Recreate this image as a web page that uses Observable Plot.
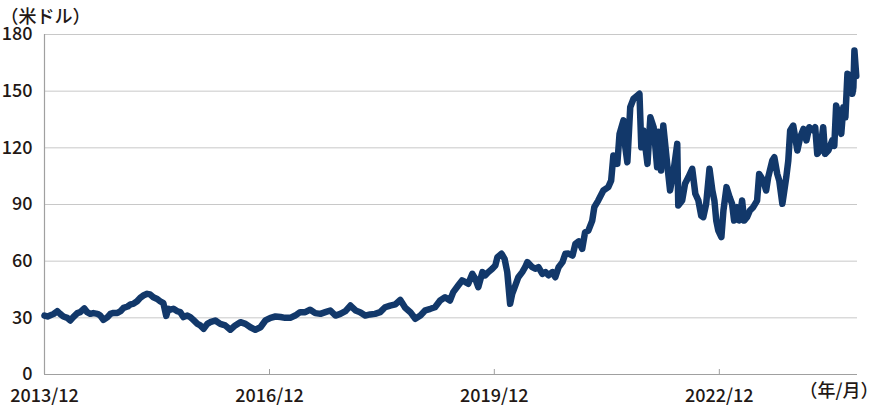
<!DOCTYPE html>
<html><head><meta charset="utf-8">
<script src="https://cdn.jsdelivr.net/npm/d3@7"></script>
<script src="https://cdn.jsdelivr.net/npm/@observablehq/plot@0.6"></script>
<style>
html,body{margin:0;padding:0;background:#fff;}
#chart svg{display:block;}
</style></head><body><div id="chart"></div>
<script>
const dates = [
"2013-12-31","2014-01-15","2014-02-14","2014-03-03","2014-03-17","2014-04-02","2014-04-21","2014-05-05","2014-05-20","2014-06-09",
"2014-06-23","2014-07-13","2014-07-27","2014-08-11","2014-08-26","2014-09-15","2014-09-29","2014-10-14","2014-11-03","2014-11-17",
"2014-12-02","2014-12-21","2015-01-05","2015-01-20","2015-02-09","2015-02-23","2015-03-08","2015-03-27","2015-04-11","2015-04-26",
"2015-05-15","2015-05-29","2015-06-14","2015-07-03","2015-07-17","2015-08-02","2015-08-16","2015-08-26","2015-09-05","2015-09-20",
"2015-10-09","2015-10-23","2015-11-08","2015-11-27","2015-12-11","2015-12-26","2016-01-15","2016-01-29","2016-02-14","2016-03-03",
"2016-03-17","2016-04-11","2016-05-05","2016-05-29","2016-06-23","2016-07-17","2016-08-11","2016-09-05","2016-09-29","2016-10-23",
"2016-11-17","2016-12-11","2017-01-05","2017-01-29","2017-02-23","2017-03-17","2017-04-11","2017-05-05","2017-05-29","2017-06-23",
"2017-07-17","2017-08-11","2017-09-05","2017-09-29","2017-10-23","2017-11-17","2017-12-11","2018-01-05","2018-01-29","2018-02-23",
"2018-03-17","2018-04-11","2018-05-05","2018-05-29","2018-06-23","2018-07-17","2018-08-11","2018-09-05","2018-09-29","2018-10-23",
"2018-11-17","2018-12-11","2019-01-05","2019-01-29","2019-02-23","2019-03-17","2019-04-11","2019-05-05","2019-05-29","2019-06-14",
"2019-07-08","2019-07-27","2019-08-11","2019-08-26","2019-09-15","2019-09-29","2019-10-14","2019-11-03","2019-11-17","2019-12-02",
"2019-12-21","2020-01-05","2020-01-15","2020-02-04","2020-02-19","2020-03-03","2020-03-17","2020-03-27","2020-04-11","2020-04-26",
"2020-05-15","2020-05-29","2020-06-09","2020-07-03","2020-07-17","2020-08-02","2020-08-21","2020-09-05","2020-09-20","2020-10-09",
"2020-10-23","2020-11-08","2020-11-27","2020-12-11","2020-12-26","2021-01-15","2021-01-29","2021-02-14","2021-03-03","2021-03-17",
"2021-04-02","2021-04-21","2021-05-01","2021-05-20","2021-06-14","2021-07-08","2021-07-22","2021-08-02","2021-08-21","2021-09-01",
"2021-09-20","2021-09-29","2021-10-09","2021-10-23","2021-11-08","2021-11-27","2021-12-07","2021-12-16","2021-12-26","2022-01-15",
"2022-01-29","2022-02-14","2022-03-03","2022-03-08","2022-03-22","2022-04-02","2022-04-21","2022-05-05","2022-05-20","2022-06-09",
"2022-06-14","2022-07-03","2022-07-17","2022-08-02","2022-08-21","2022-09-05","2022-09-20","2022-10-04","2022-10-14","2022-10-28",
"2022-11-13","2022-11-27","2022-12-07","2022-12-16","2022-12-26","2023-01-10","2023-01-20","2023-02-04","2023-02-19","2023-03-03",
"2023-03-13","2023-03-27","2023-04-07","2023-04-21","2023-05-01","2023-05-15","2023-05-29","2023-06-14","2023-07-03","2023-07-13",
"2023-08-02","2023-08-16","2023-08-26","2023-09-15","2023-09-25","2023-10-09","2023-10-19","2023-11-03","2023-11-08","2023-11-22",
"2023-12-02","2023-12-11","2023-12-26","2024-01-15","2024-01-29","2024-02-14","2024-02-28","2024-03-13","2024-04-02","2024-04-11",
"2024-04-21","2024-05-05","2024-05-20","2024-05-29","2024-06-14","2024-07-03","2024-07-13","2024-07-22","2024-08-02","2024-08-16",
"2024-08-26","2024-09-05","2024-09-15","2024-09-29","2024-10-09","2024-10-14","2024-10-19","2024-10-28"
];
const prices = [
31.2,30.7,32.1,33.5,32.1,30.7,30.0,28.6,30.4,32.5,
33.0,35.0,33.0,32.1,32.5,32.1,31.2,28.9,30.4,32.1,
32.6,32.6,33.5,35.3,36.0,37.1,37.4,38.8,40.6,41.8,
42.7,42.4,40.9,40.0,38.8,37.8,31.0,34.8,34.3,34.8,
33.5,33.0,30.4,31.2,30.4,28.9,26.8,26.0,24.2,26.8,
27.7,28.6,26.8,26.0,23.7,26.0,27.7,26.8,25.0,23.7,
25.0,28.6,30.0,30.7,30.4,30.0,30.0,31.2,33.0,33.0,
34.3,32.5,32.1,33.0,33.9,31.2,32.1,33.5,36.5,33.9,
33.0,31.2,31.8,32.1,33.0,35.6,36.5,37.1,39.5,35.3,
33.0,29.5,31.2,34.0,34.8,35.6,39.2,40.9,39.2,43.6,
47.1,49.8,49.0,48.0,53.3,50.7,46.2,54.2,52.5,54.2,
56.0,57.7,62.1,63.9,61.2,54.2,37.4,42.7,47.1,51.5,
54.2,56.8,59.5,56.8,56.0,56.8,53.3,54.2,52.5,54.2,
51.5,56.8,59.5,63.9,64.0,63.0,69.2,70.5,66.5,75.3,
76.2,81.5,88.6,92.1,97.4,99.2,102.6,116.0,111.5,127.4,
134.5,120.3,112.4,141.5,146.0,147.7,148.6,120.3,129.2,111.5,
136.2,130.9,109.7,128.5,108.0,131.8,111.5,97.4,106.2,122.1,
89.5,92.1,101.0,104.4,108.9,95.7,92.1,84.0,83.3,90.4,
108.9,97.4,92.1,81.5,76.2,72.7,86.8,99.2,93.9,90.4,
81.5,88.6,81.5,92.1,81.5,83.3,86.8,88.6,92.1,106.2,
102.6,97.4,104.4,113.3,115.0,106.2,102.6,90.4,94.0,104.4,
113.3,129.2,131.8,118.6,125.6,130.0,123.9,130.9,129.2,130.9,
116.8,118.6,130.9,116.8,118.6,123.9,121.0,142.4,137.9,127.4,
141.5,136.2,159.2,158.3,148.6,152.0,171.5,158.0
];
const yTicks = [0, 30, 60, 90, 120, 150, 180];
const xTicks = ["2013-12-31", "2016-12-31", "2019-12-31", "2022-12-31"];
const xDomain = ["2013-12-31", "2024-11-03"];
const yLabel = "（米ドル）";
const xLabel = "（年/月）";

const parse = d3.utcParse("%Y-%m-%d");
const data = dates.map((d, i) => ({date: parse(d), price: prices[i]}));
const fmt = d3.utcFormat("%Y/%m");
const font = "'Noto Sans CJK JP', 'Noto Sans', sans-serif";

const chart = Plot.plot({
  width: 878, height: 406,
  marginLeft: 44, marginRight: 21, marginTop: 34, marginBottom: 32,
  style: {fontFamily: font, fontSize: "18px", fontWeight: 500, color: "#231815", background: "#fff", overflow: "visible"},
  x: {type: "utc", domain: xDomain.map(parse)},
  y: {domain: [0, 180]},
  marks: [
    Plot.gridY(yTicks.filter(d => d > 0), {stroke: "#c8c8c8", strokeOpacity: 1, strokeWidth: 1}),
    Plot.ruleY([0], {stroke: "#a0a0a0", strokeWidth: 1.2}),
    Plot.ruleX([parse(xDomain[0])], {stroke: "#a0a0a0", strokeWidth: 1.2}),
    Plot.axisY({ticks: yTicks, tickSize: 0, tickPadding: 12, label: null, fontSize: 18}),
    Plot.axisX({ticks: xTicks.slice(1).map(parse), tickSize: 5, dy: -5, text: null, label: null, stroke: "#a0a0a0"}),
    Plot.axisX({ticks: xTicks.map(parse), tickSize: 0, tickPadding: 15, tickFormat: fmt, label: null, fontSize: 18}),
    Plot.line(data, {x: "date", y: "price", stroke: "#12386a", strokeWidth: 6.5, strokeLinejoin: "round", strokeLinecap: "round"}),
    Plot.text([yLabel], {frameAnchor: "top-left", dx: -44, dy: -24, textAnchor: "start", fontSize: 18}),
    Plot.text([xLabel], {frameAnchor: "bottom-right", dx: 21, dy: 22, textAnchor: "end", fontSize: 18})
  ]
});
document.getElementById("chart").appendChild(chart);
</script></body></html>
